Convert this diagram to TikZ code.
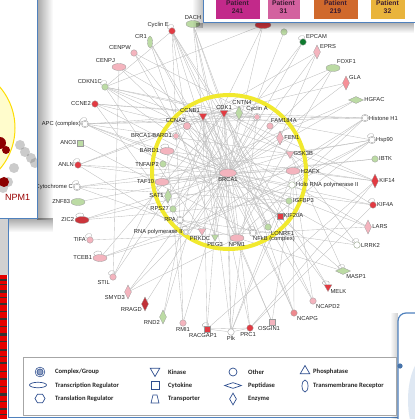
\documentclass[tikz,border=0pt]{standalone}
\usepackage{fontspec}
\newfontfamily\netfont{Liberation Sans}
\newfontfamily\legfont{Carlito}
\usetikzlibrary{shapes.geometric,backgrounds,fadings}

\definecolor{nodered}{HTML}{E23A42}
\definecolor{nodepink}{HTML}{F4B4BE}
\definecolor{nodegreen}{HTML}{BCDBA4}
\definecolor{darkgreen}{HTML}{0E7A2E}
\definecolor{ringyellow}{HTML}{F1E92E}
\definecolor{panelblue}{HTML}{4F81BD}
\definecolor{legendblue}{HTML}{2F4F8F}
\definecolor{pat241}{HTML}{C2298A}
\definecolor{pat31}{HTML}{D3619F}
\definecolor{pat219}{HTML}{D0692C}
\definecolor{pat32}{HTML}{E9B43C}
\definecolor{pattext}{HTML}{3A1A32}

\tikzset{
  nd/.style={inner sep=0pt, draw=black!40, line width=0.3pt},
  rd/.style={fill=nodered},
  pk/.style={fill=nodepink},
  gr/.style={fill=nodegreen},
  wt/.style={fill=white, draw=black!45},
  circ/.style={nd, circle, minimum size=6.5pt},
  cpx/.style={nd, circle, minimum size=6.5pt, double=white, double distance=0.5pt},
  ell/.style={nd, ellipse, minimum width=14pt, minimum height=7pt},
  vell/.style={nd, ellipse, minimum width=5pt, minimum height=12pt},
  vdia/.style={nd, diamond, minimum width=7pt, minimum height=14pt},
  hdia/.style={nd, diamond, minimum width=15pt, minimum height=7pt},
  kin/.style={nd, regular polygon, regular polygon sides=3, shape border rotate=180, minimum size=9pt},
  sq/.style={nd, rectangle, minimum size=6pt},
  every label/.style={font=\netfont\fontsize{5.8}{6}\selectfont, text=black!85, inner sep=0.6pt},
  label distance=0pt,
  ln/.style={draw=black!26, line width=0.35pt},
  selfloop/.style={draw=black!35, line width=0.35pt, loop, out=150, in=70, min distance=7pt},
  lic/.style={draw=legendblue, line width=0.7pt, inner sep=0pt, fill=white},
  ltx/.style={font=\legfont\bfseries\fontsize{6.6}{7}\selectfont, anchor=west, text=black!85, inner sep=0pt},
  pat/.style={rectangle, draw=white, line width=0.4pt, minimum height=24pt, align=center, inner sep=0pt,
    font=\netfont\bfseries\fontsize{6.8}{7.4}\selectfont, text=pattext}
}

\begin{document}
\begin{tikzpicture}[x=1pt,y=-1pt]
\useasboundingbox (0,0) rectangle (414,419);

% inner ring round BRCA1
\node[ell, pk, minimum width=17pt, minimum height=8pt, label=below:BRCA1] (brca1) at (228,173) {};
\node[kin, rd, label=above left:CCNB1] (ccnb1) at (203,116) {};
\node[kin, rd, label=above:CDK1] (cdk1) at (224,113) {};
\node[vdia, gr, label={[xshift=3pt]above:CNTN4}] (cntn4) at (239,113) {};
\node[cpx, pk, label={[yshift=1pt]above:Cyclin A}] (cyclina) at (257,117) {};
\node[circ, pk, label={[xshift=-2pt]above right:FAM184A}] (fam184a) at (270,126) {};
\node[vdia, pk, label=right:FEN1] (fen1) at (280,138) {};
\node[kin, pk, label=right:GSK3B] (gsk3b) at (290,154) {};
\node[ell, pk, label=right:H2AFX] (h2afx) at (293,171) {};
\node[circ, wt, draw=nodegreen!70!black, label=right:Holo RNA polymerase II] (holo) at (292,185) {};
\node[circ, gr, label=right:IGFBP3] (igfbp3) at (289,201) {};
\node[sq, rd, label=right:KIF20A] (kif20a) at (280,216) {};
\node[circ, gr, label={[yshift=-1pt]below right:LONRF1}] (lonrf1) at (268,227) {};
\node[cpx, wt, label={[xshift=-3pt]below right:NFkB (complex)}] (nfkb) at (253,233) {};
\node[ell, pk, label=below:NPM1] (npm1) at (237,238) {};
\node[kin, gr, minimum size=8pt, label=below:PEG3] (peg3) at (215,237) {};
\node[kin, pk, label={[xshift=-2pt]below:PRKDC}] (prkdc) at (202,231) {};
\node[cpx, wt, minimum size=5pt, label=left:RNA polymerase II] (rnapol) at (186,232) {};
\node[cpx, wt, label=left:RPA] (rpa) at (180,220) {};
\node[circ, gr, label=left:RPS27] (rps27) at (173,209) {};
\node[vdia, gr, label=left:SAT1] (sat1) at (168,196) {};
\node[ell, pk, label=left:TAF10] (taf10) at (162,182) {};
\node[circ, gr, label=left:TNFAIP2] (tnfaip2) at (163,164) {};
\node[ell, pk, label=left:BARD1] (bard1) at (167,151) {};
\node[cpx, pk, label=left:BRCA1-BARD1] (brcabard) at (176,136) {};
\node[circ, pk, minimum size=7.5pt, label={[xshift=2pt]above left:CCNA2}] (ccna2) at (187,126) {};

% outer nodes, left side
\node[circ, rd, label=above left:Cyclin E] (cycline) at (172,31) {};
\node[vell, gr, label=above left:CR1] (cr1) at (150,42) {};
\node[circ, pk, label=above left:CENPW] (cenpw) at (134,53) {};
\node[ell, pk, label=above left:CENPJ] (cenpj) at (119,67) {};
\node[circ, gr, label=above left:CDKN1C] (cdkn1c) at (105,87) {};
\node[circ, rd, label=left:CCNE2] (ccne2) at (95,104) {};
\node[cpx, wt, label=left:APC (complex)] (apc) at (85,124) {};
\node[sq, gr, label=left:ANO3] (ano3) at (80,143) {};
\node[circ, rd, label=left:ANLN] (anln) at (78,165) {};
\node[cpx, wt, label=left:Cytochrome C] (cytc) at (77,187) {};
\node[ell, gr, label=left:ZNF83] (znf83) at (78,202) {};
\node[ell, rd, fill=nodered!90!black, label=left:ZIC2] (zic2) at (82,220) {};
\node[circ, pk, label=left:TIFA] (tifa) at (90,240) {};
\node[ell, pk, label=left:TCEB1] (tceb1) at (100,258) {};
\node[circ, pk, label=below left:STIL] (stil) at (113,277) {};
\node[vdia, pk, label=below left:SMYD3] (smyd3) at (128,292) {};
\node[vdia, rd, fill=nodered!85!black, label=below left:RRAGD] (rragd) at (145,304) {};
\node[vdia, gr, label=below left:RND2] (rnd2) at (163,317) {};

% outer nodes, bottom
\node[circ, pk, label=below:RMI1] (rmi1) at (183,323) {};
\node[sq, rd, label={[xshift=-4pt]below:RACGAP1}] (racgap1) at (207,329) {};
\node[circ, wt, label=below:Plk] (plk) at (231,332) {};
\node[circ, rd, label={[xshift=-2pt]below:PRC1}] (prc1) at (250,328) {};
\node[sq, pk, label={[xshift=-3pt]below:OSGIN1}] (osgin1) at (272,322) {};
\node[circ, fill=nodered!60, label=below right:NCAPG] (ncapg) at (294,313) {};
\node[circ, pk, label=below right:NCAPD2] (ncapd2) at (313,301) {};
\node[kin, rd, label=below right:MELK] (melk) at (328,287) {};
\node[hdia, gr, label=below right:MASP1] (masp1) at (343,271) {};

% outer nodes, right side
\node[circ, wt, draw=nodegreen!60!black, label=right:LRRK2] (lrrk2) at (357,245) {};
\node[vdia, pk, label=right:LARS] (lars) at (368,227) {};
\node[circ, rd, label=right:KIF4A] (kif4a) at (373,205) {};
\node[vdia, rd, label=right:KIF14] (kif14) at (375,181) {};
\node[circ, gr, label=right:IBTK] (ibtk) at (375,159) {};
\node[cpx, wt, label=right:Hsp90] (hsp90) at (372,140) {};
\node[cpx, wt, label=right:Histone H1] (histone) at (365,118) {};
\node[hdia, gr, label=right:HGFAC] (hgfac) at (356,100) {};
\node[vdia, pk, fill=nodepink!80!red, label=above right:GLA] (gla) at (346,83) {};
\node[ell, gr, label=above right:FOXF1] (foxf1) at (333,68) {};
\node[vdia, pk, label=above right:EPRS] (eprs) at (317,52) {};
\node[circ, fill=darkgreen, label=above right:EPCAM] (epcam) at (303,42) {};
\node[circ, gr] (ephx) at (284,32) {};
\node[ell, rd, minimum width=16pt] (redtop) at (263,25) {};
\node[ell, gr, label=above:DACH] (dach) at (193,24) {};

% self loops
\foreach \n in {cycline,cdkn1c,apc,anln,cytc,zic2,tifa,tceb1,stil,racgap1,melk,masp1,lrrk2,kif4a,hsp90,epcam,bard1,nfkb,lonrf1,rnapol}
  \path (\n) edge[selfloop] (\n);

\begin{scope}[on background layer]
  % connectors
  \foreach \n in {ccnb1,cdk1,cntn4,cyclina,fam184a,fen1,gsk3b,h2afx,holo,igfbp3,kif20a,lonrf1,nfkb,npm1,peg3,prkdc,rnapol,rpa,rps27,sat1,taf10,tnfaip2,bard1,brcabard,ccna2}
    \draw[ln] (brca1) -- (\n);
  \foreach \a/\b in {cycline/cdk1, cycline/ccna2, cycline/rpa, cycline/npm1, cycline/cdkn1c, cycline/lonrf1, cycline/ncapg,
    cr1/brca1, cr1/nfkb, cenpw/npm1, cenpw/brca1, cenpj/brca1, cenpj/ccnb1, cenpj/stil,
    cdkn1c/cdk1, cdkn1c/ccna2, cdkn1c/brca1, cdkn1c/cyclina, cdkn1c/prkdc,
    ccne2/cdk1, ccne2/ccna2, ccne2/brca1, ccne2/rpa, ccne2/cyclina,
    apc/ccnb1, apc/cyclina, apc/brca1, apc/histone, apc/kif20a, apc/gsk3b,
    dach/brca1, dach/npm1, dach/peg3, dach/cdk1,
    ano3/nfkb, anln/rnapol, anln/brca1, anln/ccnb1, anln/kif4a,
    cytc/hsp90, cytc/brca1, cytc/prkdc, cytc/igfbp3,
    znf83/brca1, zic2/brca1, zic2/igfbp3, tifa/nfkb, tceb1/rnapol, tceb1/holo,
    stil/cdk1, smyd3/rnapol, smyd3/npm1, rragd/brca1, rnd2/cdk1, rnd2/ccnb1,
    rmi1/brca1, rmi1/rpa, racgap1/cdk1, racgap1/plk, racgap1/prc1, racgap1/kif14, racgap1/ccnb1,
    plk/cdk1, plk/brca1, plk/ccnb1, plk/prc1, plk/kif20a, plk/cyclina,
    prc1/cdk1, prc1/kif4a, prc1/kif14, prc1/ccnb1,
    osgin1/npm1, osgin1/holo,
    ncapg/cdk1, ncapg/h2afx, ncapg/ccnb1, ncapd2/cdk1, ncapd2/h2afx,
    melk/cdk1, melk/ccnb1, masp1/brca1, masp1/gsk3b, lrrk2/gsk3b, lrrk2/rpa, lars/brca1, lars/nfkb,
    kif4a/cdk1, kif4a/brca1, kif14/cdk1, kif14/bard1, ibtk/brca1, ibtk/taf10,
    hsp90/cdk1, hsp90/holo, hsp90/nfkb, hsp90/gsk3b, hsp90/rnapol,
    histone/cdk1, histone/ccnb1, histone/h2afx, histone/npm1,
    hgfac/brca1, gla/brca1, foxf1/brca1, foxf1/npm1, eprs/brca1, eprs/ccna2,
    epcam/brca1, ephx/brca1, redtop/brca1, redtop/cdkn1c, redtop/rps27,
    cycline/kif20a, cr1/peg3, cenpw/cyclina, cdkn1c/kif14, apc/igfbp3, anln/cdk1, zic2/h2afx,
    tceb1/cdk1, stil/ccna2, smyd3/cyclina, rmi1/bard1, plk/h2afx, osgin1/ccna2, ncapd2/ccnb1,
    masp1/rpa, lrrk2/brca1, lars/ccna2, kif14/h2afx, histone/rnapol, hgfac/taf10, gla/ccnb1,
    foxf1/cdk1, eprs/npm1, dach/lonrf1, epcam/rps27}
    \draw[ln] (\a) -- (\b);
  % yellow ring
  \draw[ringyellow, line width=4pt] (229,172) circle[radius=77pt];
\end{scope}

% left inset panel
\fill[black, opacity=0.35, path fading=east] (37,0) rectangle (53,220);
\fill[black, opacity=0.35, path fading=south] (0,218) rectangle (53,232);
\fill[white] (-2,-2) rectangle (37,218);
\begin{scope}
  \clip (0,0) rectangle (37,218);
  \draw[fill=yellow!20, draw=yellow!80!orange, line width=1pt] (-48,128) circle[radius=63pt];
  \foreach \p in {(20,145),(25,152),(31,158),(35,163),(14,168),(8,182),(3,188)}
    \fill[black!45, opacity=0.45] \p circle[radius=5pt];
  \fill[red!55!black] (0,143) circle[radius=6pt];
  \fill[red!55!black] (6,150) circle[radius=4pt];
  \fill[red!55!black] (4,182) circle[radius=5pt];
\end{scope}
\node[font=\netfont\fontsize{9}{9}\selectfont, text=red!60!black, anchor=west, inner sep=0pt] (npmlab) at (5,197) {NPM1};
\draw[panelblue, line width=1pt] (37,-2) -- (37,218) -- (-2,218);

% left strip below the panel
\fill[black!18] (0,219) rectangle (8,275);
\fill[red!90!black] (0,275) rectangle (7,419);
\foreach \y/\h in {279/2,284/1,290/3,297/1,303/2,311/1,318/2,326/1,333/3,341/1,349/2,356/1,362/2,371/1,378/2,386/1,393/3,401/1,408/2,414/1}
  \fill[black!80] (0,\y) rectangle (7,\y+\h);
\draw[panelblue, line width=0.8pt] (8,219) -- (8,417) -- (398,417);

% patient panel
\fill[black, opacity=0.3, path fading=south] (196,23) rectangle (414,33);
\fill[black, opacity=0.25, path fading=west] (192,-2) rectangle (203,28);
\fill[white] (203,-2) rectangle (416,23);
\draw[panelblue, line width=1pt] (203,-2) -- (203,23) -- (416,23);
\node[pat, fill=pat241, minimum width=45pt] (p241) at (237.5,7) {Patient\\241};
\node[pat, fill=pat31, minimum width=33pt] (p31) at (283.5,7) {Patient\\31};
\node[pat, fill=pat219, minimum width=45pt] (p219) at (335.5,7) {Patient\\219};
\node[pat, fill=pat32, minimum width=35pt] (p32) at (387.5,7) {Patient\\32};

% bottom right panel
\fill[black, opacity=0.2, path fading=west] (390,313) rectangle (398,419);
\draw[panelblue, line width=1.2pt, fill=white, rounded corners=8pt] (398,313) rectangle (430,430);
\begin{scope}
  \clip (399,314) rectangle (420,420);
  \fill[panelblue!18] (428,400) ellipse[x radius=20pt, y radius=45pt];
\end{scope}
\fill[panelblue!90!black] (400,366) circle[radius=2.6pt];

% legend
\draw[black!35, line width=0.8pt, fill=white] (23,357) rectangle (396,415);
\node[lic, circle, minimum size=8pt, fill=legendblue!55, double=white, double distance=0.8pt] (lgcpx) at (40,372) {};
\node[ltx] (tcpx) at (55,372) {Complex/Group};
\node[lic, ellipse, minimum width=17pt, minimum height=5.5pt] (lgtr) at (38,385) {};
\node[ltx] (ttr) at (55,385.5) {Transcription Regulator};
\node[lic, regular polygon, regular polygon sides=6, minimum size=10pt] (lgtl) at (40,398.5) {};
\node[ltx] (ttl) at (55,398.5) {Translation Regulator};
\node[lic, regular polygon, regular polygon sides=3, shape border rotate=180, minimum size=11pt] (lgkin) at (155,371) {};
\node[ltx] (tkin) at (168,372) {Kinase};
\node[lic, rectangle, minimum size=8pt] (lgcyt) at (155,385.5) {};
\node[ltx] (tcyt) at (168,385.5) {Cytokine};
\draw[lic] (151,403) -- (153,395) -- (157,395) -- (159,403) -- cycle;
\node[ltx] (ttp) at (168,398.5) {Transporter};
\node[lic, circle, minimum size=8pt] (lgoth) at (233,372) {};
\node[ltx] (toth) at (248,372) {Other};
\node[lic, diamond, minimum width=17pt, minimum height=6pt] (lgpep) at (233,385.5) {};
\node[ltx] (tpep) at (248,385.5) {Peptidase};
\node[lic, diamond, minimum width=7pt, minimum height=12pt] (lgenz) at (233,399) {};
\node[ltx] (tenz) at (248,398.5) {Enzyme};
\node[lic, regular polygon, regular polygon sides=3, minimum size=11pt] (lgpho) at (305,371) {};
\node[ltx] (tpho) at (313,372) {Phosphatase};
\node[lic, ellipse, minimum width=6pt, minimum height=12pt] (lgtm) at (305,386) {};
\node[ltx] (ttm) at (313,385.5) {Transmembrane Receptor};
\end{tikzpicture}
\end{document}
